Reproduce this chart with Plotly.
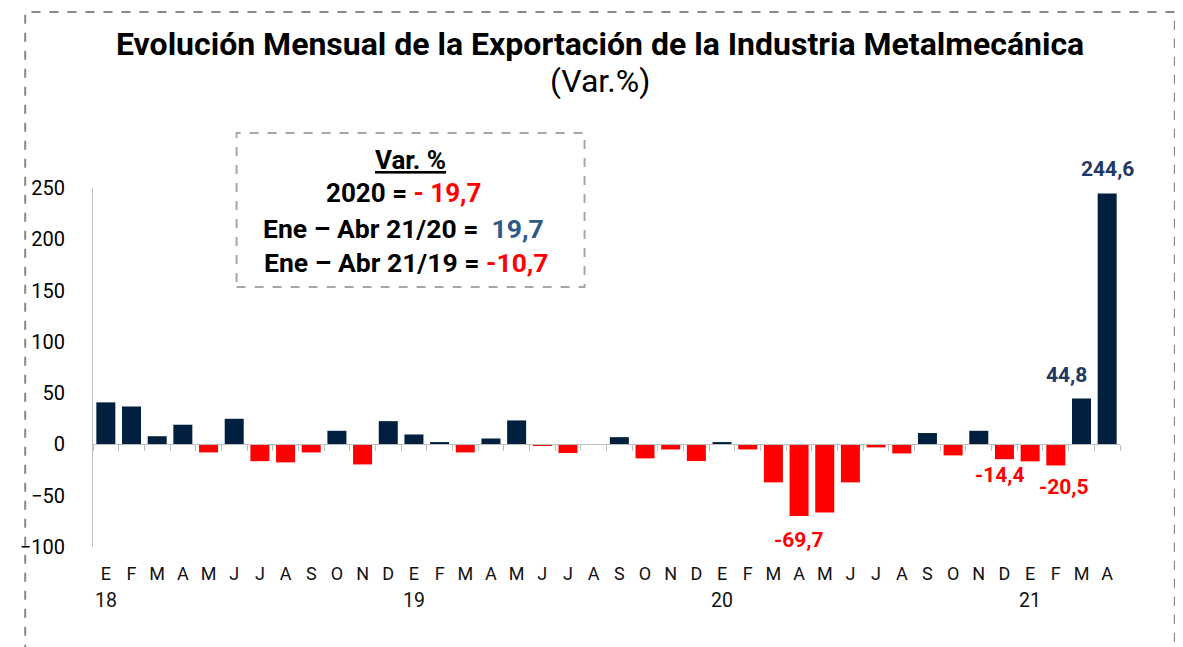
import plotly.graph_objects as go

months = ["E","F","M","A","M","J","J","A","S","O","N","D"] * 3 + ["E","F","M","A"]
year_pos = [0, 12, 24, 36]
year_text = ["18", "19", "20", "21"]
values = [41, 37, 8, 19.2, -7.8, 25, -16.3, -17.5, -7.8, 13.3, -19.5, 22.7,
          9.7, 2.3, -7.8, 5.8, 23.4, -0.6, -8.4, -0.5, 7.1, -13.6, -4.9, -16.2,
          2.3, -4.9, -37, -69.7, -66.3, -37, -2.9, -8.8, 11.1, -10.7, 13.3, -14.4,
          -16.5, -20.5, 44.8, 244.6]
labeled = [27, 35, 37, 38, 39]
# label offsets (pixels) as placed in the original
label_xshift = {27: 0, 35: -4, 37: 8, 38: -15, 39: 0}
label_yshift = {27: -24, 35: -16, 37: -22, 38: 23, 39: 25}
yticks = [-100, -50, 0, 50, 100, 150, 200, 250]

NAVY = "#01203F"
RED = "#FF0000"
LBL_NAVY = "#203864"
FONT = "Roboto"

idx = list(range(len(values)))

# page has an 8px body margin; figure sized to fit the window
FW, FH = 1175, 639
# plot area in screen coordinates
SX0, SX1, SY0, SY1 = 90, 1120, 188, 547
L, R, T, B = SX0 - 8, FW - (SX1 - 8), SY0 - 8, FH - (SY1 - 8)

def px(xs):
    return (xs - SX0) / (SX1 - SX0)

def py(ys):
    return (SY1 - ys) / (SY1 - SY0)

fig = go.Figure()
fig.add_trace(go.Bar(
    x=idx, y=values,
    marker=dict(color=[NAVY if v >= 0 else RED for v in values], line=dict(width=0)),
    width=0.74, hoverinfo="skip",
))
fig.add_trace(go.Scatter(x=[-0.5, len(values) - 0.5], y=[0, 0], xaxis="x2", mode="lines",
                         line=dict(width=0), hoverinfo="skip", showlegend=False))

annotations = []
for i in labeled:
    v = values[i]
    annotations.append(dict(
        x=i, y=v, xref="x", yref="y", showarrow=False, xanchor="center", yanchor="middle",
        text=f"{v:.1f}".replace(".", ","),
        font=dict(family=FONT, size=21, color=LBL_NAVY if v >= 0 else RED, weight="bold"),
        xshift=label_xshift[i], yshift=label_yshift[i],
    ))
for p, t in zip(year_pos, year_text):
    annotations.append(dict(
        x=p, y=py(600), xref="x", yref="paper", showarrow=False,
        xanchor="center", yanchor="middle", text=t,
        font=dict(family=FONT, size=19.5, color="#111"),
    ))

def centered(xs, ys, text, size):
    return dict(x=px(xs), y=py(ys), xref="paper", yref="paper", showarrow=False,
                xanchor="center", yanchor="middle", text=text,
                font=dict(family=FONT, size=size, color="#000"))

annotations += [
    centered(598, 44, "<b>Evolución Mensual de la Exportación de la Industria Metalmecánica</b>", 32),
    centered(598, 81, "(Var.%)", 32),
    centered(408, 160, "<b><u>Var. %</u></b>", 26),
    centered(401, 193, "<b>2020 = <span style='color:#FF0000'>- 19,7</span></b>", 26),
    centered(401, 228, "<b>Ene – Abr 21/20 =  <span style='color:#2E5A87'>19,7</span></b>", 26.5),
    centered(404, 262, "<b>Ene – Abr 21/19 = <span style='color:#FF0000'>-10,7</span></b>", 26.5),
]

shapes = [
    dict(type="rect", xref="paper", yref="paper",
         x0=px(22), x1=px(1175), y0=py(680), y1=py(12),
         line=dict(color="#888888", width=2, dash="dash"), fillcolor="rgba(0,0,0,0)"),
    dict(type="rect", xref="paper", yref="paper",
         x0=px(234), x1=px(583), y0=py(287), y1=py(133),
         line=dict(color="#A6A6A6", width=2, dash="dash"), fillcolor="rgba(0,0,0,0)"),
]

fig.update_layout(
    width=FW, height=FH,
    margin=dict(l=L, r=R, t=T, b=B, pad=0),
    paper_bgcolor="white", plot_bgcolor="white",
    showlegend=False,
    annotations=annotations, shapes=shapes,
    xaxis=dict(
        range=[-0.5, len(values) - 0.5], tickmode="array", tickvals=idx, ticktext=months,
        showline=False, showgrid=False, zeroline=False, ticks="",
        tickfont=dict(family=FONT, size=18, color="#111"), ticklabelstandoff=14,
    ),
    xaxis2=dict(
        overlaying="x", anchor="free", position=100 / 350, type="linear",
        range=[-0.5, len(values) - 0.5], tickmode="array",
        tickvals=[i - 0.5 for i in range(len(values) + 1)],
        showticklabels=False, ticks="outside", ticklen=6, tickcolor="#BFBFBF", tickwidth=1,
        showline=True, linecolor="#BFBFBF", linewidth=1, showgrid=False, zeroline=False,
    ),
    yaxis=dict(
        range=[-100, 250], tickmode="array", tickvals=yticks,
        showline=True, linecolor="#BFBFBF", linewidth=1, showgrid=False, zeroline=False,
        ticks="", tickfont=dict(family=FONT, size=20, color="#000"), ticklabelstandoff=23,
    ),
)

fig.write_html("out.html")
